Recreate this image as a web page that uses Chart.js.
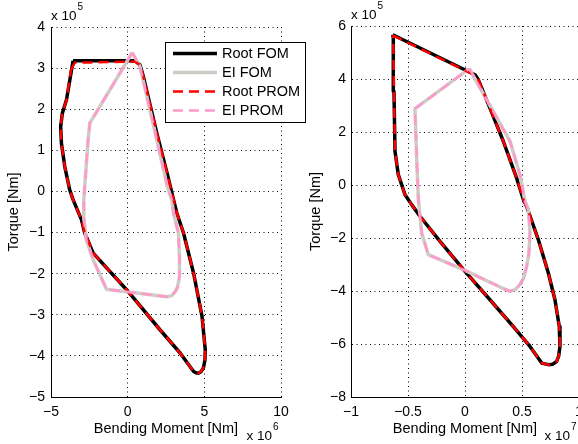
<!DOCTYPE html>
<html lang="en">
<head>
    <meta charset="UTF-8">
    <title>Torque vs Bending Moment</title>
    <script src="https://cdn.jsdelivr.net/npm/chart.js"></script>
    <style>
        body {
            margin: 0;
            background: #fff;
        }

        .wrap {
            position: relative;
            width: 578px;
            height: 444px;
            overflow: hidden;
        }

        #left-chart {
            position: absolute;
            left: 0;
            top: 0;
            z-index: 2;
        }

        #right-chart {
            position: absolute;
            left: 290px;
            top: 0;
            z-index: 1;
        }
    </style>
</head>
<body>
    <div class="wrap">
        <canvas id="left-chart" width="330" height="444"></canvas>
        <canvas id="right-chart" width="290" height="444"></canvas>
    </div>

    <script>
        // Left panel: bending moment in 1e6 Nm, torque in 1e5 Nm
        const leftRootFom = [
            [-3.56, 3.18], [0.48, 3.18], [0.80, 3.08], [1.02, 2.80], [1.90, 1.42], [2.60, 0.40],
            [2.99, -0.20], [3.21, -0.53], [3.64, -1.01], [4.30, -1.99], [4.85, -3.04], [5.06, -3.85],
            [5.04, -4.10], [4.95, -4.28], [4.80, -4.38], [4.62, -4.42], [4.45, -4.41], [4.30, -4.38],
            [3.42, -3.93], [2.12, -3.37], [-0.07, -2.39], [-2.25, -1.50], [-2.80, -1.01], [-3.01, -0.69],
            [-3.56, -0.20], [-3.78, 0.04], [-4.10, 0.60], [-4.32, 1.17], [-4.37, 1.58], [-4.26, 1.90],
            [-3.99, 2.23], [-3.56, 3.18]
        ];
        const leftEiFom = [
            [0.30, 3.38], [0.80, 3.04], [1.90, 1.26], [2.60, 0.10], [2.88, -0.20], [2.99, -0.53],
            [3.31, -1.01], [3.38, -1.60], [3.38, -2.07], [3.25, -2.33], [3.10, -2.44], [2.85, -2.54],
            [2.55, -2.56], [-1.38, -2.38], [-2.25, -1.66], [-2.69, -1.18], [-2.85, -0.69], [-2.86, -0.20],
            [-2.80, 0.12], [-2.58, 1.26], [-2.47, 1.66], [-1.16, 2.47], [0.30, 3.38]
        ];
        const leftRootProm = [
            [-3.70, 2.95], [-3.45, 3.13], [0.48, 3.16], [0.80, 3.07], [1.02, 2.80], [1.90, 1.42], [2.60, 0.40],
            [2.99, -0.20], [3.21, -0.53], [3.64, -1.01], [4.30, -1.99], [4.85, -3.04], [5.06, -3.85],
            [5.04, -4.10], [4.95, -4.28], [4.80, -4.38], [4.62, -4.42], [4.45, -4.41], [4.30, -4.38],
            [3.42, -3.93], [2.12, -3.37], [-0.07, -2.39], [-2.25, -1.50], [-2.80, -1.01], [-3.01, -0.69],
            [-3.56, -0.20], [-3.78, 0.04], [-4.10, 0.60], [-4.32, 1.17], [-4.37, 1.58], [-4.26, 1.90],
            [-3.99, 2.23], [-3.70, 2.95]
        ];
        const leftEiProm = [
            [0.30, 3.38], [0.80, 3.04], [1.90, 1.26], [2.60, 0.10], [2.88, -0.20], [2.99, -0.53],
            [3.31, -1.01], [3.38, -1.60], [3.38, -2.07], [3.25, -2.33], [3.10, -2.44], [2.85, -2.54],
            [2.55, -2.56], [-1.38, -2.38], [-2.25, -1.66], [-2.69, -1.18], [-2.85, -0.69], [-2.86, -0.20],
            [-2.80, 0.12], [-2.58, 1.26], [-2.47, 1.66], [-1.16, 2.47], [0.30, 3.38]
        ];
        const leftXTicks = [-5, 0, 5, 10];
        const leftYTicks = [-5, -4, -3, -2, -1, 0, 1, 2, 3, 4];

        // Right panel: bending moment in 1e7 Nm, torque in 1e5 Nm
        const rightRootFom = [
            [-0.634, 5.67], [0.088, 4.16], [0.117, 3.97], [0.219, 2.90], [0.336, 1.65], [0.453, 0.26],
            [0.512, -0.55], [0.541, -0.81], [0.643, -2.06], [0.731, -3.32], [0.789, -4.33], [0.827, -5.34],
            [0.833, -6.09], [0.822, -6.45], [0.804, -6.66], [0.770, -6.76], [0.730, -6.78], [0.673, -6.72],
            [0.570, -6.09], [0.424, -5.34], [0.219, -4.33], [0.000, -3.26], [-0.219, -2.13], [-0.395, -1.18],
            [-0.468, -0.74], [-0.526, -0.37], [-0.585, 0.39], [-0.614, 1.27], [-0.623, 3.53], [-0.629, 5.55],
            [-0.634, 5.67]
        ];
        const rightEiFom = [
            [0.038, 4.39], [0.100, 3.91], [0.248, 2.78], [0.395, 1.65], [0.482, 0.39], [0.526, -0.62],
            [0.556, -0.93], [0.570, -1.81], [0.560, -2.60], [0.541, -3.07], [0.515, -3.50], [0.482, -3.76],
            [0.440, -3.95], [0.395, -4.01], [0.307, -3.85], [0.000, -3.22], [-0.322, -2.63], [-0.380, -1.81],
            [-0.409, -0.55], [-0.424, 1.02], [-0.439, 2.88], [0.038, 4.39]
        ];
        const rightRootProm = [
            [-0.634, 5.65], [0.088, 4.14], [0.117, 3.97], [0.219, 2.90], [0.336, 1.65], [0.453, 0.26],
            [0.512, -0.55], [0.541, -0.81], [0.643, -2.06], [0.731, -3.32], [0.789, -4.33], [0.827, -5.34],
            [0.833, -6.09], [0.822, -6.45], [0.804, -6.66], [0.770, -6.76], [0.730, -6.78], [0.673, -6.72],
            [0.570, -6.09], [0.424, -5.34], [0.219, -4.33], [0.000, -3.26], [-0.219, -2.13], [-0.395, -1.18],
            [-0.468, -0.74], [-0.526, -0.37], [-0.585, 0.39], [-0.614, 1.27], [-0.623, 3.53], [-0.629, 5.55],
            [-0.634, 5.65]
        ];
        const rightEiProm = [
            [0.038, 4.39], [0.100, 3.91], [0.248, 2.78], [0.395, 1.65], [0.482, 0.39], [0.526, -0.62],
            [0.556, -0.93], [0.570, -1.81], [0.560, -2.60], [0.541, -3.07], [0.515, -3.50], [0.482, -3.76],
            [0.440, -3.95], [0.395, -4.01], [0.307, -3.85], [0.000, -3.22], [-0.322, -2.63], [-0.380, -1.81],
            [-0.409, -0.55], [-0.424, 1.02], [-0.439, 2.88], [0.038, 4.39]
        ];
        const rightXTicks = [-1, -0.5, 0, 0.5, 1];
        const rightYTicks = [-8, -6, -4, -2, 0, 2, 4, 6];

        const seriesLabels = ['Root FOM', 'EI FOM', 'Root PROM', 'EI PROM'];

        const FONT = '"Liberation Sans", Arial, Helvetica, sans-serif';

        // MATLAB-style minus sign
        const fmt = v => {
            const r = Math.round(v * 10) / 10;
            return (r < 0 ? '\u2212' : '') + Math.abs(r);
        };

        const toPoints = arr => arr.map(p => ({ x: p[0], y: p[1] }));

        // Draws "x 10^n" multipliers
        function drawPow(ctx, x, y, exp) {
            ctx.font = '13.5px ' + FONT;
            ctx.textBaseline = 'alphabetic';
            ctx.textAlign = 'left';
            ctx.fillText('x 10', x, y);
            const w = ctx.measureText('x 10').width;
            ctx.font = '10px ' + FONT;
            ctx.fillText(String(exp), x + w + 1, y - 10);
        }

        const exponentLabels = {
            id: 'exponentLabels',
            afterDraw(chart, args, opts) {
                const { ctx, chartArea: a } = chart;
                ctx.save();
                ctx.fillStyle = '#000';
                drawPow(ctx, a.left, a.top - 7, opts.y);
                drawPow(ctx, a.right - 34.5, a.bottom + 43, opts.x);
                ctx.restore();
            }
        };

        // Boxed legend inside the left axes
        const boxLegend = {
            id: 'boxLegend',
            afterDraw(chart, args, opts) {
                if (!opts.show) return;
                const ctx = chart.ctx;
                const x = 165, y = 42, w = 140, h = 80;
                ctx.save();
                ctx.fillStyle = '#fff';
                ctx.fillRect(x, y, w, h);
                ctx.strokeStyle = '#000';
                ctx.lineWidth = 1;
                ctx.strokeRect(x + 0.5, y + 0.5, w, h);
                seriesLabels.forEach((label, i) => {
                    const ds = chart.data.datasets[i];
                    const cy = y + 11.5 + i * 19;
                    ctx.beginPath();
                    ctx.setLineDash(ds.borderDash || []);
                    ctx.strokeStyle = ds.borderColor;
                    ctx.lineWidth = ds.borderWidth;
                    ctx.moveTo(x + 8, cy);
                    ctx.lineTo(x + 52, cy);
                    ctx.stroke();
                    ctx.setLineDash([]);
                    ctx.fillStyle = '#000';
                    ctx.font = '14.5px ' + FONT;
                    ctx.textBaseline = 'middle';
                    ctx.fillText(label, x + 57, cy);
                });
                ctx.restore();
            }
        };

        function fixSize(px, vertical) {
            return scale => {
                if (vertical) scale.width = px; else scale.height = px;
                scale.paddingLeft = scale.paddingRight = scale.paddingTop = scale.paddingBottom = 0;
            };
        }

        function makeChart(canvas, p) {
            const datasets = [
                { label: seriesLabels[0], data: toPoints(p.rootFom), borderColor: '#000000', borderWidth: 3.5, order: 4 },
                { label: seriesLabels[1], data: toPoints(p.eiFom), borderColor: '#cfcbc5', borderWidth: 3.5, order: 3 },
                { label: seriesLabels[2], data: toPoints(p.rootProm), borderColor: '#ff0000', borderWidth: 2.5, borderDash: [10, 6], order: 2 },
                { label: seriesLabels[3], data: toPoints(p.eiProm), borderColor: '#ff99cc', borderWidth: 2.5, borderDash: [10, 6], order: 1 }
            ];
            datasets.forEach(d => {
                d.showLine = true;
                d.pointRadius = 0;
                d.tension = 0;
                d.fill = false;
                d.borderJoinStyle = 'round';
            });

            const gridOpts = { color: '#000', lineWidth: 1, drawTicks: false };
            const borderOpts = { display: true, color: '#000', width: 1, dash: [1, 3.5] };

            return new Chart(canvas, {
                type: 'scatter',
                data: { datasets },
                options: {
                    responsive: false,
                    animation: false,
                    events: [],
                    layout: { padding: { left: 0, right: p.padRight, top: p.top, bottom: 0 } },
                    plugins: {
                        legend: { display: false },
                        tooltip: { enabled: false },
                        exponentLabels: { x: p.xExp, y: p.yExp },
                        boxLegend: { show: p.legend }
                    },
                    scales: {
                        x: {
                            type: 'linear',
                            min: p.xTicks[0],
                            max: p.xTicks[p.xTicks.length - 1],
                            afterBuildTicks: s => { s.ticks = p.xTicks.map(v => ({ value: v })); },
                            afterFit: fixSize(47, false),
                            grid: gridOpts,
                            border: borderOpts,
                            ticks: { color: '#000', font: { family: FONT, size: 14 }, padding: 7, maxRotation: 0, callback: fmt },
                            title: {
                                display: true,
                                text: 'Bending Moment [Nm]',
                                color: '#000',
                                font: { family: FONT, size: 14.5 },
                                padding: { top: 0, bottom: 6.3 }
                            }
                        },
                        y: {
                            type: 'linear',
                            min: p.yTicks[0],
                            max: p.yTicks[p.yTicks.length - 1],
                            afterBuildTicks: s => { s.ticks = p.yTicks.map(v => ({ value: v })); },
                            afterFit: fixSize(p.left, true),
                            grid: gridOpts,
                            border: borderOpts,
                            ticks: { color: '#000', font: { family: FONT, size: 14 }, padding: p.yPad, callback: fmt },
                            title: {
                                display: true,
                                text: 'Torque [Nm]',
                                color: '#000',
                                font: { family: FONT, size: 14.5 },
                                padding: { top: p.yTitlePad, bottom: 0 }
                            }
                        }
                    }
                },
                plugins: [exponentLabels, boxLegend]
            });
        }

        makeChart(document.getElementById('left-chart'), {
            rootFom: leftRootFom, eiFom: leftEiFom, rootProm: leftRootProm, eiProm: leftEiProm,
            xTicks: leftXTicks, yTicks: leftYTicks, xExp: 6, yExp: 5,
            left: 51, padRight: 49, top: 27, yPad: 6, yTitlePad: 5.3, legend: true
        });

        makeChart(document.getElementById('right-chart'), {
            rootFom: rightRootFom, eiFom: rightEiFom, rootProm: rightRootProm, eiProm: rightEiProm,
            xTicks: rightXTicks, yTicks: rightYTicks, xExp: 7, yExp: 5,
            left: 61, padRight: 1, top: 26, yPad: 5, yTitlePad: 17.3, legend: false
        });
    </script>
</body>
</html>
